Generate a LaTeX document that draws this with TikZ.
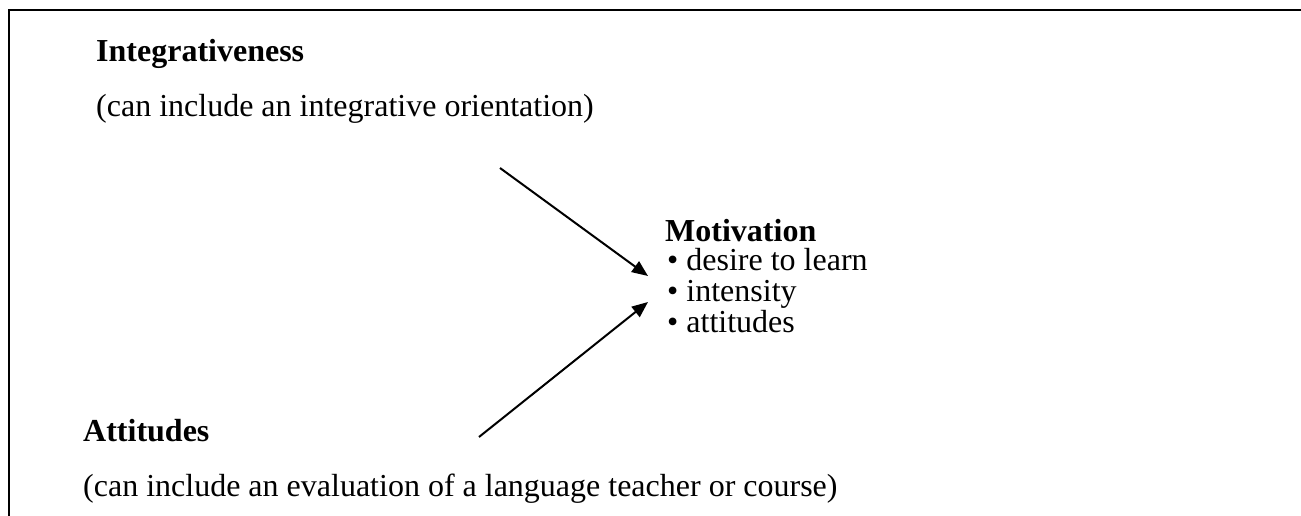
\documentclass[tikz,border=0pt]{standalone}
\usepackage{fontspec}
\setmainfont{Liberation Serif}
\usetikzlibrary{arrows.meta}
\begin{document}
\begin{tikzpicture}[x=1pt,y=-1pt,
  lbl/.style={anchor=base west,inner sep=0pt,font=\fontsize{32}{38}\selectfont},
  head/.style={anchor=base west,inner sep=0pt,font=\fontsize{32}{38}\selectfont\bfseries},
  conn/.style={line width=2pt,-{Triangle[length=16pt,width=13pt]}},
  frame/.style={line width=2pt,line join=miter}]
\useasboundingbox (0,0) rectangle (1301,516);
\draw[frame] (9,516) -- (9,10) -- (1301,10);
\node[head] (integ) at (96,62) {Integrativeness};
\node[lbl] (integsub) at (96,117) {(can include an integrative orientation)};
\node[head] (motiv) at (665,241) {Motivation};
\node[lbl] (m1) at (667,270) {• desire to learn};
\node[lbl] (m2) at (667,301) {• intensity};
\node[lbl] (m3) at (667,332) {• attitudes};
\node[head] (att) at (83,441) {Attitudes};
\node[lbl] (attsub) at (83,496) {(can include an evaluation of a language teacher or course)};
\coordinate (a1s) at (500,168);
\coordinate (a1e) at (648,276);
\coordinate (a2s) at (479,437);
\coordinate (a2e) at (648,302);
\draw[conn] (a1s) -- (a1e);
\draw[conn] (a2s) -- (a2e);
\end{tikzpicture}
\end{document}
